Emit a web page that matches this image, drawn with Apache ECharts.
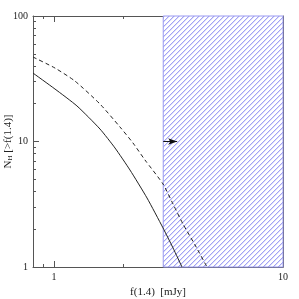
<!DOCTYPE html>
<html><head><meta charset="utf-8">
<script src="https://cdn.jsdelivr.net/npm/echarts@6/dist/echarts.min.js"></script>
<style>html,body{margin:0;padding:0;background:#fff}#c{width:299px;height:299px}</style>
</head><body><div id="c"></div>
<script>
const solidX = [0.81, 1.01, 1.26, 1.588, 1.847, 2.147, 2.548, 2.992, 3.309, 3.622];
const solidY = [35.1, 26.2, 19.2, 12.58, 8.88, 5.93, 3.55, 2.05, 1.42, 1.0];
const dashX = [0.81, 1.01, 1.235, 1.588, 1.942, 2.213, 2.497, 2.992, 3.309, 3.659, 4.128, 4.658];
const dashY = [47.1, 38.5, 30.3, 19.9, 13.05, 9.73, 7.12, 4.59, 3.18, 2.20, 1.50, 1.0];
const hatchRange = [3, 10];
const arrowFrom = [3, 10];
const arrowTo = [3.45, 10];
const xMajorTicks = [1, 10];
const xMinorTicks = [0.9, 2, 3, 4, 5, 6, 7, 8, 9];
const yMajorTicks = [1, 10, 100];
const yMinorTicks = [2, 3, 4, 5, 6, 7, 8, 9, 20, 30, 40, 50, 60, 70, 80, 90];

const P = 5;
const pc = document.createElement('canvas');
pc.width = P; pc.height = P;
const g = pc.getContext('2d');
g.fillStyle = '#ffffff'; g.fillRect(0, 0, P, P);
for (let x = 0; x < P; x++) for (let y = 0; y < P; y++) {
  const k = (x + y) % P;
  if (k === P - 1) { g.fillStyle = '#a2a2f5'; g.fillRect(x, y, 1, 1); }
  else if (k === 0) { g.fillStyle = '#dcdcfb'; g.fillRect(x, y, 1, 1); }
}

const axisCol = '#555';
const font = {fontFamily: 'Liberation Serif', fontSize: 10, color: '#222'};
function ax(pos, ticks, len, labels, line) {
  const isY = pos === 'left' || pos === 'right';
  return {
    type: 'log', logBase: 10, position: pos,
    min: isY ? 1 : 0.81, max: isY ? 100 : 10,
    axisLine: {show: line, lineStyle: {color: axisCol, width: 1}},
    axisTick: {show: true, inside: true, length: len, customValues: ticks, lineStyle: {color: axisCol, width: 1}},
    axisLabel: labels ? Object.assign({show: true, customValues: ticks, margin: 5}, font) : {show: false},
    splitLine: {show: false}, minorTick: {show: false}
  };
}
const xAxes = [ax('bottom', xMajorTicks, 6, true, true), ax('bottom', xMinorTicks, 3, false, false),
  ax('top', xMajorTicks, 6, false, true), ax('top', xMinorTicks, 3, false, false)];
xAxes[0].name = 'f(1.4)  [mJy]';
xAxes[0].nameLocation = 'middle';
xAxes[0].nameGap = 18;
xAxes[0].nameTextStyle = {fontFamily: 'Liberation Serif', fontSize: 11, color: '#222'};
const yAxes = [ax('left', yMajorTicks, 6, true, true), ax('left', yMinorTicks, 3, false, false),
  ax('right', yMajorTicks, 6, false, true), ax('right', yMinorTicks, 3, false, false)];
yAxes[0].name = 'N{s|H} [>f(1.4)]';
yAxes[0].nameLocation = 'middle';
yAxes[0].nameGap = 25;
yAxes[0].nameMoveOverlap = false;
yAxes[0].nameRotate = 90;
yAxes[0].nameTextStyle = {fontFamily: 'Liberation Serif', fontSize: 11, color: '#222', verticalAlign: 'middle',
  rich: {s: {fontFamily: 'Liberation Serif', fontSize: 7, color: '#222', padding: [5, 0, 0, 0]}}};

const chart = echarts.init(document.getElementById('c'), null, {renderer: 'canvas'});
chart.setOption({
  animation: false,
  grid: {left: 33, top: 16, right: 16, bottom: 32, containLabel: false, outerBoundsMode: 'none'},
  xAxis: xAxes, yAxis: yAxes,
  series: [
    {type: 'line', data: solidX.map((x, i) => [x, solidY[i]]), showSymbol: false, smooth: 0.2,
     lineStyle: {color: '#222', width: 1}, z: 5,
     markArea: {silent: true, itemStyle: {color: {image: pc, repeat: 'repeat'}, borderColor: '#9a9af0', borderWidth: 1},
       data: [[{xAxis: hatchRange[0]}, {xAxis: hatchRange[1]}]]},
     markLine: {silent: true, symbol: ['none', 'arrow'], symbolSize: [5, 9], label: {show: false},
       lineStyle: {color: '#111', type: 'solid', width: 1},
       data: [[{coord: arrowFrom}, {coord: arrowTo}]]}},
    {type: 'line', data: dashX.map((x, i) => [x, dashY[i]]), showSymbol: false, smooth: 0.2,
     lineStyle: {color: '#222', width: 1, type: [4, 3]}, z: 5}
  ]
});
</script></body></html>
